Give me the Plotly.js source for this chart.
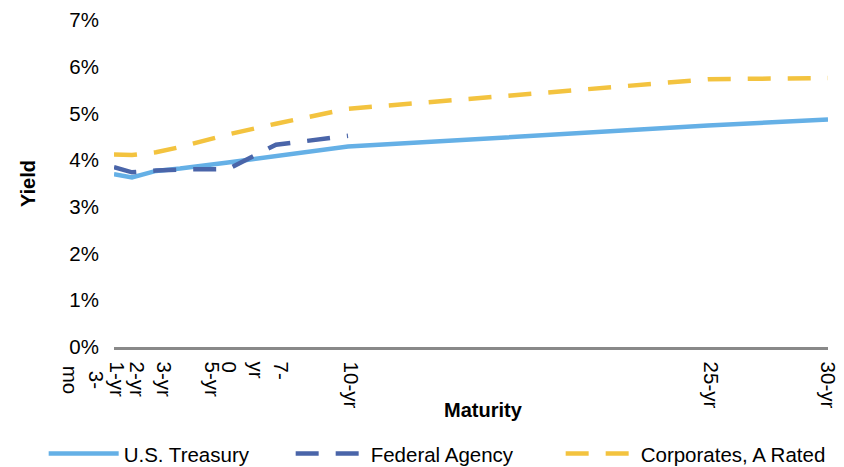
<!DOCTYPE html>
<html>
<head>
<meta charset="utf-8">
<script src="https://cdn.plot.ly/plotly-3.0.1.min.js"></script>
<style>html,body{margin:0;padding:0;background:#fff;}#chart{width:844px;height:467px;}</style>
</head>
<body>
<div id="chart"></div>
<script>
// Maturities in years
var maturities = [0.25, 1, 2, 3, 5, 7, 10, 25, 30];
var agencyMaturities = [0.25, 1, 2, 3, 5, 7, 10];
var treasury = [3.70, 3.63, 3.77, 3.82, 3.95, 4.08, 4.29, 4.74, 4.87];
var agency = [3.85, 3.74, 3.78, 3.80, 3.81, 4.33, 4.52];
var corporates = [4.12, 4.11, 4.17, 4.28, 4.55, 4.78, 5.10, 5.73, 5.76];
var seriesNames = ['U.S. Treasury', 'Federal Agency', 'Corporates, A Rated'];
// Tick labels as they appear on the axis
var tickPositions = [0.38, 1.2, 2.3, 4.3, 5.6, 7.2, 10.1, 25.1, 30];
var tickLabels = ['1-yr', '2-yr', '3-yr', '5-yr', 'yr<br>0', '7-', '10-yr', '25-yr', '30-yr'];
var firstLabel = '3-<br>mo';
var yTicks = [0, 1, 2, 3, 4, 5, 6, 7];

var FONT = 'Arial, "Liberation Sans", sans-serif';
var FS = 20.5;

var traces = [
  {x: maturities, y: treasury, name: seriesNames[0], mode: 'lines', legendwidth: 162,
   line: {color: '#65B0E6', width: 4.5}},
  {x: agencyMaturities, y: agency, name: seriesNames[1], mode: 'lines', legendwidth: 185,
   line: {color: '#4A65A9', width: 4.5, dash: '23px,17px'}},
  {x: maturities, y: corporates, name: seriesNames[2], mode: 'lines',
   line: {color: '#F3C33F', width: 4.5, dash: '23px,17px'}}
];

var layout = {
  width: 844, height: 467,
  margin: {l: 114, r: 16, t: 20, b: 120, autoexpand: false},
  paper_bgcolor: '#fff', plot_bgcolor: '#fff',
  font: {family: FONT, size: FS, color: '#000'},
  showlegend: true,
  legend: {orientation: 'h', xref: 'paper', yref: 'paper', x: -0.0985, xanchor: 'left',
           y: -0.3263, yanchor: 'middle', itemwidth: 70, bgcolor: 'rgba(0,0,0,0)',
           font: {family: FONT, size: FS, color: '#000'}},
  xaxis: {range: [0.25, 30], automargin: false, showgrid: false, zeroline: false, showline: true,
          linecolor: '#898989', linewidth: 2.5, ticks: '', ticklabelstandoff: 8,
          tickmode: 'array', tickvals: tickPositions, ticktext: tickLabels,
          tickangle: 90, tickfont: {family: FONT, size: FS, color: '#000'}},
  yaxis: {range: [0, 7], automargin: false, showgrid: false, zeroline: false, showline: false, ticks: '',
          tickmode: 'array', tickvals: yTicks, ticktext: yTicks.map(function(v){return v + '%';}),
          ticklabelstandoff: 14, tickfont: {family: FONT, size: FS, color: '#000'},
          title: {text: '<b>Yield</b>', standoff: 28, font: {family: FONT, size: 20, color: '#000'}}},
  annotations: [
    {text: firstLabel, xref: 'paper', yref: 'paper', x: -0.043, y: -0.052,
     xanchor: 'center', yanchor: 'top', textangle: 90, showarrow: false,
     font: {family: FONT, size: FS, color: '#000'}},
    {text: '<b>Maturity</b>', xref: 'paper', yref: 'paper', x: 0.518, y: -0.193,
     xanchor: 'center', yanchor: 'middle', showarrow: false,
     font: {family: FONT, size: 20, color: '#000'}}
  ]
};

Plotly.newPlot('chart', traces, layout, {displayModeBar: false, staticPlot: true});
</script>
</body>
</html>
